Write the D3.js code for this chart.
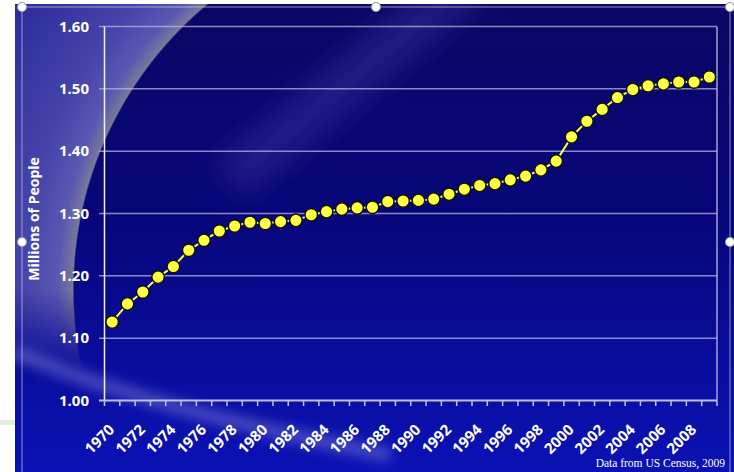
<!DOCTYPE html>
<html>
<head>
<meta charset="utf-8">
<script src="https://cdn.jsdelivr.net/npm/d3@7"></script>
<style>
	body { margin: 0; background: #fff; }
	svg { display: block; }
</style>
</head>
<body>
<svg id="chart"></svg>
<script>
const years = [1970, 1971, 1972, 1973, 1974, 1975, 1976, 1977, 1978, 1979,
	1980, 1981, 1982, 1983, 1984, 1985, 1986, 1987, 1988, 1989,
	1990, 1991, 1992, 1993, 1994, 1995, 1996, 1997, 1998, 1999,
	2000, 2001, 2002, 2003, 2004, 2005, 2006, 2007, 2008, 2009];

// millions of people
const people = [1.126, 1.155, 1.174, 1.198, 1.215, 1.241, 1.257, 1.272, 1.280, 1.286,
	1.284, 1.287, 1.289, 1.298, 1.303, 1.307, 1.309, 1.310, 1.319, 1.320,
	1.321, 1.323, 1.331, 1.339, 1.345, 1.348, 1.354, 1.360, 1.370, 1.384,
	1.423, 1.448, 1.467, 1.486, 1.499, 1.505, 1.508, 1.511, 1.511, 1.519];

const y_ticks = [1.00, 1.10, 1.20, 1.30, 1.40, 1.50, 1.60];
const x_labels = years.filter(d => d % 2 === 0);

const width = 734, height = 472;
const svg = d3.select('#chart').attr('width', width).attr('height', height);
const defs = svg.append('defs');

const bg = defs.append('linearGradient').attr('id', 'bg')
	.attr('x1', 0).attr('y1', 0).attr('x2', 0).attr('y2', 1);
bg.append('stop').attr('offset', '0%').attr('stop-color', '#0a0764');
bg.append('stop').attr('offset', '45%').attr('stop-color', '#07067a');
bg.append('stop').attr('offset', '100%').attr('stop-color', '#0b12b4');

// lavender area left of the big arc
const lav = defs.append('radialGradient').attr('id', 'lav')
	.attr('gradientUnits', 'userSpaceOnUse')
	.attr('cx', 445).attr('cy', 290).attr('r', 520);
lav.append('stop').attr('offset', 0.713).attr('stop-color', '#7c7c98').attr('stop-opacity', 0);
lav.append('stop').attr('offset', 0.716).attr('stop-color', '#78789a').attr('stop-opacity', 1);
lav.append('stop').attr('offset', 0.745).attr('stop-color', '#5858b2');
lav.append('stop').attr('offset', 0.81).attr('stop-color', '#4444aa');
lav.append('stop').attr('offset', 1).attr('stop-color', '#2a2a98');

const fade = defs.append('linearGradient').attr('id', 'fade')
	.attr('gradientUnits', 'userSpaceOnUse')
	.attr('x1', 0).attr('y1', 290).attr('x2', 0).attr('y2', 370);
fade.append('stop').attr('offset', 0).attr('stop-color', '#fff');
fade.append('stop').attr('offset', 1).attr('stop-color', '#000');
defs.append('mask').attr('id', 'fademask')
	.append('rect').attr('x', 0).attr('y', 0).attr('width', width).attr('height', height)
	.attr('fill', 'url(#fade)');

defs.append('filter').attr('id', 'blur').attr('x', '-50%').attr('y', '-50%')
	.attr('width', '200%').attr('height', '200%')
	.append('feGaussianBlur').attr('stdDeviation', 6);
defs.append('filter').attr('id', 'blur2').attr('x', '-50%').attr('y', '-50%')
	.attr('width', '200%').attr('height', '200%')
	.append('feGaussianBlur').attr('stdDeviation', 14);
defs.append('clipPath').attr('id', 'panel')
	.append('rect').attr('x', 15).attr('y', 4).attr('width', width - 15).attr('height', height - 4);

// slide background
const back = svg.append('g').attr('clip-path', 'url(#panel)');
back.append('rect').attr('x', 15).attr('y', 4).attr('width', width - 15).attr('height', height - 4)
	.attr('fill', 'url(#bg)');
back.append('line').attr('x1', 230).attr('y1', 180).attr('x2', 470).attr('y2', -20)
	.attr('stroke', '#3c3aa8').attr('stroke-opacity', 0.4).attr('stroke-width', 45)
	.attr('filter', 'url(#blur2)');
back.append('rect').attr('x', 15).attr('y', 4).attr('width', 300).attr('height', 380)
	.attr('fill', 'url(#lav)').attr('mask', 'url(#fademask)');
back.append('path').attr('d', 'M15,352 Q150,410 390,455')
	.attr('fill', 'none').attr('stroke', '#9c9ce6').attr('stroke-opacity', 0.4)
	.attr('stroke-width', 14).attr('filter', 'url(#blur)');
back.append('line').attr('x1', 184).attr('y1', 370).attr('x2', 184).attr('y2', 480)
	.attr('stroke', '#a8a8ee').attr('stroke-opacity', 0.35).attr('stroke-width', 12)
	.attr('filter', 'url(#blur)');

// bits of the slide around the chart
svg.append('line').attr('x1', 0).attr('x2', 15).attr('y1', 422.5).attr('y2', 422.5)
	.attr('stroke', '#e2efda').attr('stroke-width', 5);
const frame = svg.append('g').attr('stroke', '#c8c8dc').attr('stroke-opacity', 0.7).attr('fill', 'none');
frame.append('line').attr('x1', 22).attr('x2', 22).attr('y1', 7).attr('y2', 472);
frame.append('line').attr('x1', 22).attr('x2', 730).attr('y1', 7).attr('y2', 7);
frame.append('line').attr('x1', 730).attr('x2', 730).attr('y1', 7).attr('y2', 472);

// scales
const x = d3.scaleBand().domain(years).range([104.5, 717]);
const y = d3.scaleLinear().domain([1.0, 1.6]).range([400.5, 26.5]);
const cx = d => x(d) + x.bandwidth() / 2;

// gridlines + y labels
svg.append('g').selectAll('line')
	.data(y_ticks.slice(1))
	.join('line')
	.attr('x1', 99).attr('x2', 717)
	.attr('y1', d => y(d)).attr('y2', d => y(d))
	.attr('stroke', '#b4b4dc').attr('stroke-opacity', 0.75).attr('stroke-width', 1.5);

svg.append('g').selectAll('text')
	.data(y_ticks)
	.join('text')
	.attr('x', 89).attr('y', d => y(d)).attr('dy', '0.35em')
	.attr('text-anchor', 'end')
	.attr('fill', '#fff')
	.style('font', 'bold 15px "Open Sans", sans-serif')
	.text(d => d.toFixed(2));

// plot border
svg.append('line').attr('x1', 717).attr('x2', 717).attr('y1', y(1.6)).attr('y2', y(1.0))
	.attr('stroke', '#c8c8e4').attr('stroke-opacity', 0.8).attr('stroke-width', 1.5);
svg.append('line').attr('x1', 104.5).attr('x2', 104.5).attr('y1', y(1.6)).attr('y2', y(1.0))
	.attr('stroke', '#f0f0ff').attr('stroke-width', 1.5);
svg.append('line').attr('x1', 99).attr('x2', 717).attr('y1', y(1.0)).attr('y2', y(1.0))
	.attr('stroke', '#c0c0e4').attr('stroke-width', 2);

// x ticks at category edges
svg.append('g').selectAll('line')
	.data(years.concat([null]))
	.join('line')
	.attr('x1', (d, i) => i < years.length ? x(d) : x.range()[1])
	.attr('x2', (d, i) => i < years.length ? x(d) : x.range()[1])
	.attr('y1', y(1.0)).attr('y2', y(1.0) + 5.5)
	.attr('stroke', '#c0c0e4').attr('stroke-width', 1.5);

svg.append('g').selectAll('text')
	.data(x_labels)
	.join('text')
	.attr('transform', d => `translate(${cx(d) - 0.5},427) rotate(-45)`)
	.attr('dy', '0.35em')
	.attr('text-anchor', 'end')
	.attr('fill', '#fff')
	.style('font', 'bold 15px "Open Sans", sans-serif')
	.text(d => d);

svg.append('text')
	.attr('transform', 'translate(34,219) rotate(-90)')
	.attr('dy', '0.35em')
	.attr('text-anchor', 'middle')
	.attr('fill', '#fff')
	.style('font', 'bold 14px "Open Sans", sans-serif')
	.text('Millions of People');

// the series
const line = d3.line().x((d, i) => cx(years[i])).y(d => y(d));
svg.append('path')
	.datum(people)
	.attr('d', line)
	.attr('fill', 'none')
	.attr('stroke', '#ffff40')
	.attr('stroke-width', 2);

svg.append('g').selectAll('circle')
	.data(people)
	.join('circle')
	.attr('cx', (d, i) => cx(years[i]))
	.attr('cy', d => y(d))
	.attr('r', 6.3)
	.attr('fill', '#ffff44')
	.attr('stroke', '#111')
	.attr('stroke-width', 1.5);

svg.append('text')
	.attr('x', 725).attr('y', 467)
	.attr('text-anchor', 'end')
	.attr('fill', '#fff')
	.style('font', '11.5px "Liberation Serif", "Times New Roman", serif')
	.text('Data from US Census, 2009');

// selection handles
const handles = [[22, 7], [376, 7], [730, 7], [22, 242], [730, 242]];
svg.append('g').selectAll('circle')
	.data(handles)
	.join('circle')
	.attr('cx', d => d[0]).attr('cy', d => d[1])
	.attr('r', 4.5)
	.attr('fill', '#fff')
	.attr('stroke', '#9a9aa8')
	.attr('stroke-width', 1.2);
</script>
</body>
</html>
